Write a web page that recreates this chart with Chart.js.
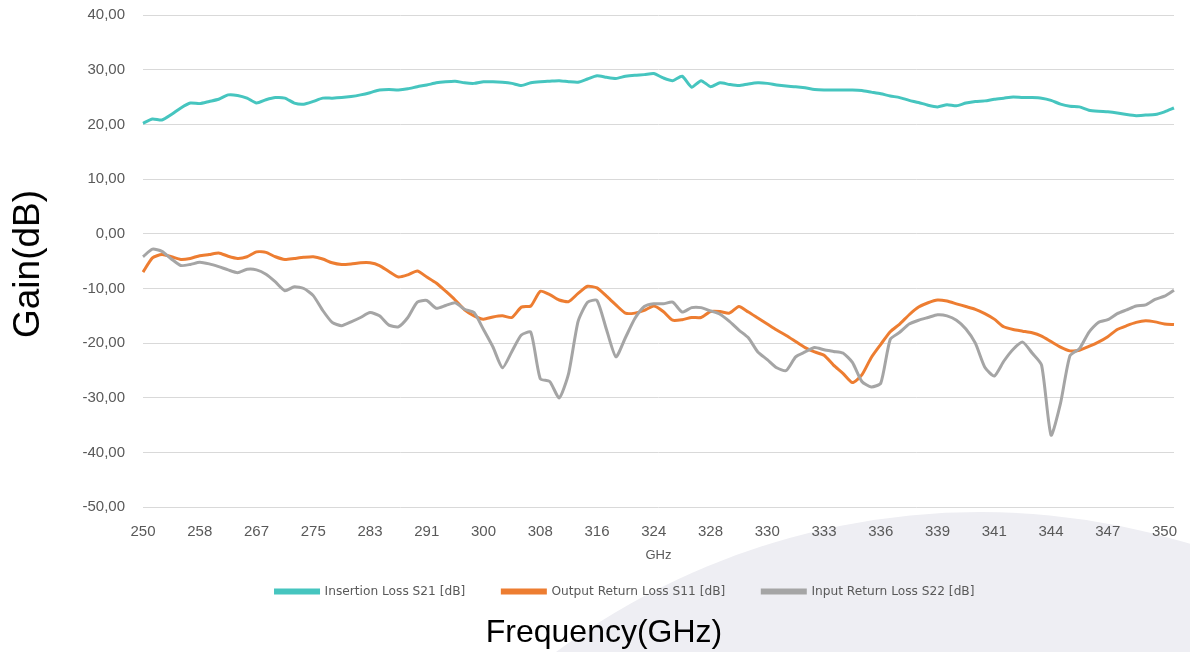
<!DOCTYPE html>
<html>
<head>
<meta charset="utf-8">
<script src="https://cdn.jsdelivr.net/npm/chart.js@4.4.1/dist/chart.umd.min.js"></script>
<style>
  html, body { margin: 0; padding: 0; background: #fff; }
  #wrap { position: relative; width: 1190px; height: 652px; overflow: hidden; }
  #arc {
    position: absolute; left: 268px; top: 512px; width: 1424px; height: 1424px;
    border-radius: 50%; background: #eeeef3;
  }
  /* canvas pulled up a little so the plot top lands on y=15 */
  #chart { position: absolute; left: 0; top: -12px; }
  .outer { position: absolute; font-family: "Liberation Sans", Arial, sans-serif; color: #000; white-space: nowrap; }
  #ylab { left: 27px; top: 264px; font-size: 37px; transform: translate(-50%, -50%) rotate(-90deg); }
  #xlab { left: 604px; top: 631px; font-size: 32px; transform: translate(-50%, -50%); }
</style>
</head>
<body>
<div id="wrap">
  <div id="arc"></div>
  <canvas id="chart" width="1190" height="667"></canvas>
  <div class="outer" id="ylab">Gain(dB)</div>
  <div class="outer" id="xlab">Frequency(GHz)</div>
</div>
<script>
// x labels shown every 6 samples
const tickLabels = [250, 258, 267, 275, 283, 291, 300, 308, 316, 324, 328, 330, 333, 336, 339, 341, 344, 347, 350];
const yTicks = { min: -50, max: 40, step: 10 };

const s21 = [
  20.2, 21.0, 20.8, 21.8, 23.0, 23.9, 23.8, 24.2, 24.6, 25.4,
  25.3, 24.8, 23.9, 24.5, 24.9, 24.8, 23.9, 23.7, 24.2, 24.8,
  24.8, 24.9, 25.1, 25.4, 25.8, 26.3, 26.4, 26.3, 26.5, 26.9,
  27.2, 27.6, 27.8, 27.9, 27.6, 27.5, 27.8, 27.8, 27.7, 27.5,
  27.1, 27.6, 27.8, 27.9, 28.0, 27.8, 27.7, 28.3, 28.9, 28.6,
  28.4, 28.8, 29.0, 29.1, 29.3, 28.5, 28.0, 28.8, 26.8, 28.0,
  26.9, 27.6, 27.3, 27.1, 27.4, 27.6, 27.5, 27.2, 27.0, 26.9,
  26.7, 26.4, 26.3, 26.3, 26.3, 26.3, 26.2, 25.9, 25.6, 25.2,
  24.9, 24.4, 24.0, 23.5, 23.2, 23.6, 23.4, 23.9, 24.2, 24.3,
  24.6, 24.8, 25.0, 24.9, 24.9, 24.8, 24.4, 23.7, 23.3, 23.2,
  22.6, 22.4, 22.3, 22.1, 21.8, 21.6, 21.7, 21.8, 22.3, 23.0
];

const s11 = [
  -7.0, -4.4, -3.8, -4.2, -4.7, -4.5, -4.0, -3.8, -3.5, -4.1,
  -4.5, -4.2, -3.3, -3.4, -4.2, -4.7, -4.5, -4.3, -4.2, -4.6,
  -5.3, -5.6, -5.5, -5.3, -5.3, -5.8, -6.9, -7.9, -7.5, -6.8,
  -7.9, -9.0, -10.5, -12.1, -13.9, -15.0, -15.6, -15.2, -15.0, -15.3,
  -13.4, -13.2, -10.5, -11.1, -12.1, -12.4, -10.9, -9.6, -9.9, -11.4,
  -13.0, -14.5, -14.5, -14.0, -13.2, -14.2, -15.8, -15.7, -15.3, -15.3,
  -14.2, -14.2, -14.5, -13.3, -14.3, -15.4, -16.5, -17.6, -18.6, -19.7,
  -20.8, -21.6, -22.2, -24.0, -25.5, -27.2, -25.8, -22.6, -20.2, -17.9,
  -16.5, -14.8, -13.4, -12.6, -12.1, -12.3, -12.8, -13.3, -13.8, -14.6,
  -15.6, -17.0, -17.5, -17.8, -18.1, -18.7, -19.7, -20.7, -21.4, -21.3,
  -20.6, -19.8, -18.8, -17.5, -16.8, -16.2, -15.9, -16.1, -16.5, -16.6
];

const s22 = [
  -4.2, -2.8, -3.2, -4.6, -5.8, -5.6, -5.2, -5.5, -6.0, -6.6,
  -7.1, -6.5, -6.6, -7.4, -8.8, -10.4, -9.7, -10.0, -11.3, -14.0,
  -16.2, -16.8, -16.1, -15.3, -14.4, -15.0, -16.7, -17.0, -15.3, -12.5,
  -12.2, -13.6, -13.1, -12.6, -13.8, -14.4, -17.5, -20.7, -24.5, -21.5,
  -18.5, -18.0, -26.5, -27.0, -30.0, -25.5, -16.0, -12.5, -12.2, -17.5,
  -22.5, -19.0, -15.5, -13.3, -12.8, -12.8, -12.5, -14.3, -13.5, -13.5,
  -14.1, -14.7, -16.0, -17.6, -19.0, -21.6, -23.0, -24.5, -25.0, -22.5,
  -21.6, -20.8, -21.2, -21.5, -21.8, -23.5, -27.0, -28.0, -27.3, -19.3,
  -18.0, -16.5, -15.8, -15.3, -14.8, -15.0, -15.8, -17.4, -20.0, -24.4,
  -26.0, -23.3, -21.1, -19.8, -21.8, -24.0, -36.8, -31.0, -22.3, -21.0,
  -18.0, -16.2, -15.7, -14.6, -13.9, -13.2, -13.0, -12.0, -11.4, -10.3
];

const categories = s21.map((_, i) => (i % 6 === 0 ? String(tickLabels[i / 6]) : ''));

const axisGrey = '#595959';
const labelFont = { family: '"Liberation Sans", Arial, sans-serif', size: 15 };

const ctx = document.getElementById('chart').getContext('2d');
new Chart(ctx, {
  type: 'line',
  data: {
    labels: categories,
    datasets: [
      { label: 'Insertion Loss S21 [dB]', data: s21, borderColor: '#46c5bf', backgroundColor: '#46c5bf', order: 2 },
      { label: 'Output Return Loss S11 [dB]', data: s11, borderColor: '#ed7d31', backgroundColor: '#ed7d31', order: 1 },
      { label: 'Input Return Loss S22 [dB]', data: s22, borderColor: '#a5a5a5', backgroundColor: '#a5a5a5', order: 0 }
    ]
  },
  options: {
    responsive: false,
    animation: false,
    layout: { padding: { left: 74.5, right: 14.5, top: 3, bottom: 47.5 } },
    elements: {
      line: { borderWidth: 3, tension: 0.2, fill: false },
      point: { radius: 0 }
    },
    scales: {
      x: {
        type: 'category',
        afterFit: (scale) => { scale.height = 41; },
        grid: { display: false, drawTicks: false },
        border: { display: false },
        ticks: { autoSkip: false, maxRotation: 0, padding: 16, color: axisGrey, font: labelFont },
        title: {
          display: true, text: 'GHz', color: axisGrey,
          font: { family: '"Liberation Sans", Arial, sans-serif', size: 13 },
          padding: { top: 0, bottom: -15 }
        }
      },
      y: {
        min: yTicks.min,
        max: yTicks.max,
        afterFit: (scale) => { scale.width = 68.5; },
        grid: { color: '#d9d9d9', lineWidth: 1, drawTicks: false },
        border: { display: false },
        ticks: {
          stepSize: yTicks.step, padding: 18, color: axisGrey, font: labelFont,
          callback: (v) => v.toFixed(2).replace('.', ',')
        }
      }
    },
    plugins: {
      title: { display: false },
      tooltip: { enabled: false },
      legend: {
        position: 'bottom',
        labels: {
          boxWidth: 43, boxHeight: 3, padding: 37, color: axisGrey,
          font: { family: '"DejaVu Sans", sans-serif', size: 12.2 },
          sort: (a, b) => a.datasetIndex - b.datasetIndex
        }
      }
    }
  }
});
</script>
</body>
</html>
